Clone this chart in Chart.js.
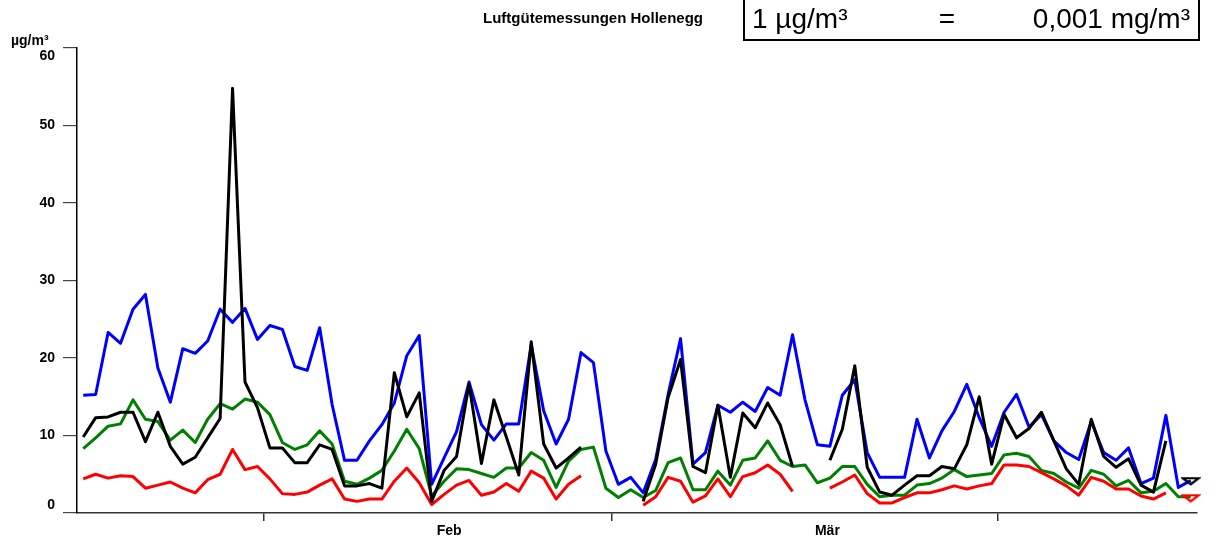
<!DOCTYPE html>
<html><head><meta charset="utf-8">
<script src="https://cdn.jsdelivr.net/npm/chart.js@4.4.1/dist/chart.umd.min.js"></script>
<style>html,body{margin:0;padding:0;background:#fff;}#wrap{position:relative;width:1228px;height:540px;}</style>
</head><body><div id="wrap"><canvas id="c" width="1228" height="540"></canvas></div>
<script>
// Categories: daily values (17.01. – 16.04.)
const days = [
 '17.01.','18.01.','19.01.','20.01.','21.01.','22.01.','23.01.','24.01.','25.01.','26.01.','27.01.','28.01.','29.01.','30.01.','31.01.',
 '01.02.','02.02.','03.02.','04.02.','05.02.','06.02.','07.02.','08.02.','09.02.','10.02.','11.02.','12.02.','13.02.','14.02.','15.02.',
 '16.02.','17.02.','18.02.','19.02.','20.02.','21.02.','22.02.','23.02.','24.02.','25.02.','26.02.','27.02.','28.02.',
 '01.03.','02.03.','03.03.','04.03.','05.03.','06.03.','07.03.','08.03.','09.03.','10.03.','11.03.','12.03.','13.03.','14.03.','15.03.',
 '16.03.','17.03.','18.03.','19.03.','20.03.','21.03.','22.03.','23.03.','24.03.','25.03.','26.03.','27.03.','28.03.','29.03.','30.03.','31.03.',
 '01.04.','02.04.','03.04.','04.04.','05.04.','06.04.','07.04.','08.04.','09.04.','10.04.','11.04.','12.04.','13.04.','14.04.','15.04.','16.04.'
];
const blue = [15.2,15.3,23.3,21.9,26.3,28.2,18.7,14.3,21.2,20.6,
 22.2,26.3,24.6,26.4,22.4,24.2,23.7,18.9,18.4,23.9,
 14.0,6.8,6.8,9.3,11.4,14.2,20.3,22.9,3.7,7.1,
 10.5,16.9,11.4,9.4,11.5,11.5,21.7,13.2,8.9,12.1,
 20.7,19.4,8.0,3.7,4.6,2.6,6.9,15.3,22.5,6.3,
 7.8,13.9,13.0,14.3,13.1,16.2,15.2,23.0,14.6,8.8,
 8.6,15.2,17.2,7.8,4.6,4.6,4.6,12.1,7.1,10.6,
 13.1,16.6,12.3,8.6,13.0,15.3,11.1,12.7,9.3,7.8,
 6.9,11.8,7.8,6.8,8.4,3.8,4.5,12.6,3.3,4.2];
const green = [8.3,9.7,11.2,11.5,14.6,12.1,11.8,9.4,10.7,9.1,
 12.1,14.1,13.4,14.7,14.3,12.7,9.1,8.2,8.8,10.6,
 8.9,4.1,3.7,4.5,5.5,8.0,10.8,8.3,2.2,4.1,
 5.7,5.6,5.1,4.6,5.8,5.8,7.8,6.8,3.3,6.7,
 8.2,8.5,3.2,2.0,3.0,2.0,2.9,6.5,7.1,3.0,
 3.0,5.4,3.6,6.8,7.1,9.3,6.8,6.0,6.2,3.9,
 4.5,6.0,6.0,3.7,2.1,2.3,2.3,3.6,3.8,4.5,
 5.6,4.7,4.9,5.1,7.5,7.7,7.3,5.5,5.1,4.0,
 3.2,5.5,5.0,3.5,4.2,2.6,2.8,3.8,2.1,2.1];
const black = [9.8,12.3,12.4,13.0,13.0,9.2,13.0,8.6,6.3,7.2,
 9.7,12.2,54.8,16.9,13.6,8.4,8.4,6.5,6.5,8.8,
 8.2,3.5,3.5,3.8,3.2,18.1,12.4,15.5,1.5,5.5,
 7.3,16.6,6.4,14.6,9.8,4.9,22.1,8.9,5.8,7.1,
 8.5,null,null,null,null,1.5,6.3,14.9,19.8,6.0,
 5.2,13.9,4.6,12.9,11.0,14.2,11.4,6.0,null,null,
 6.8,10.8,19.0,5.9,2.7,2.3,3.6,4.8,4.8,6.0,
 5.7,8.8,15.0,6.3,12.7,9.7,10.9,13.0,9.3,5.7,
 3.7,12.1,7.3,5.9,7.0,3.6,2.7,9.3,null,4.1];
const red = [4.4,5.0,4.5,4.8,4.7,3.2,3.6,4.0,3.2,2.6,
 4.3,5.0,8.2,5.6,6.0,4.4,2.5,2.4,2.7,3.6,
 4.4,1.8,1.5,1.8,1.8,4.1,5.8,3.9,1.1,2.4,
 3.6,4.2,2.3,2.7,3.8,2.8,5.4,4.5,1.8,3.7,
 4.8,null,null,null,null,1.0,2.1,4.6,4.1,1.4,
 2.2,4.4,2.1,4.7,5.2,6.2,5.0,2.8,null,null,
 3.2,4.0,4.9,2.5,1.3,1.3,2.0,2.6,2.6,3.0,
 3.5,3.1,3.5,3.8,6.2,6.2,6.0,5.2,4.4,3.5,
 2.3,4.6,4.1,3.1,3.1,2.2,1.8,2.6,null,1.9];
const yTicks = [0,10,20,30,40,50,60];
const monthTickAt = [15, 43, 74];          // month boundaries (01.02., 01.03., 01.04.)
const monthLabels = ['Feb', 'Mär'];
const monthLabelAt = [29.9, 60.3];
const titleText = 'Luftgütemessungen Hollenegg';
const unitText = 'µg/m³';
const boxTexts = ['1 µg/m³', '=', '0,001 mg/m³'];

const FONT = "'Liberation Sans', Arial, Helvetica, sans-serif";

function pts(arr){ return arr.map((v,i)=>({x:i+0.5, y:v})); }
function triImg(color){
  const c=document.createElement('canvas'); c.width=20; c.height=10;
  const g=c.getContext('2d'); g.strokeStyle=color; g.lineWidth=2.2; g.lineJoin='miter';
  g.beginPath(); g.moveTo(2,2); g.lineTo(18,2); g.lineTo(10,8); g.closePath(); g.stroke();
  return c;
}
function isolatedRadius(ctx){
  const d=ctx.dataset.data, i=ctx.dataIndex;
  if(!d[i] || d[i].y==null) return 0;
  const p=d[i-1], n=d[i+1];
  return ((!p||p.y==null)&&(!n||n.y==null)) ? 5 : 0;
}
function ds(label, arr, color, order, marker){
  return {label, data:pts(arr), borderColor:color, backgroundColor:color, borderWidth:3,
    order, spanGaps:false, tension:0, borderJoinStyle:'round', borderCapStyle:'butt', clip:false,
    pointRadius: marker ? isolatedRadius : 0, pointHoverRadius:0,
    pointStyle: marker ? triImg(color) : 'circle'};
}

const textPlugin = {
  id:'texts',
  afterDraw(chart){
    const g=chart.ctx, ys=chart.scales.y, a=chart.chartArea;
    g.save();
    g.fillStyle='#000';
    // y tick labels
    g.font='bold 14px '+FONT; g.textAlign='right'; g.textBaseline='middle';
    yTicks.forEach(v=>{
      let y=ys.getPixelForValue(v);
      y=Math.min(Math.max(y, a.top+8), a.bottom-8);
      g.fillText(String(v), 55, y);
    });
    // unit
    g.font='bold 14px '+FONT; g.textAlign='left';
    g.fillText(unitText, 11, 41);
    // title
    g.font='bold 15px '+FONT; g.textAlign='left';
    g.fillText(titleText, 483, 19);
    // conversion box
    g.strokeStyle='#000'; g.lineWidth=2;
    g.strokeRect(744, -3, 455, 43);
    g.font='28px '+FONT; g.textBaseline='alphabetic';
    g.textAlign='left'; g.fillText(boxTexts[0], 752, 28);
    g.textAlign='center'; g.fillText(boxTexts[1], 947, 28);
    g.textAlign='right'; g.fillText(boxTexts[2], 1190, 28);
    g.restore();
  }
};

new Chart(document.getElementById('c'), {
  type:'line',
  data:{datasets:[
    ds('Schwarz', black, '#000000', 0, true),
    ds('Rot', red, '#ff0000', 1, true),
    ds('Grün', green, '#008000', 2, false),
    ds('Blau', blue, '#0000ff', 3, false)
  ]},
  options:{
    responsive:false, animation:false, devicePixelRatio:1,
    layout:{padding:{left:0,right:31,top:48,bottom:0}},
    plugins:{legend:{display:false}, tooltip:{enabled:false}},
    scales:{
      x:{type:'linear', min:0, max:days.length,
        afterBuildTicks:s=>{ s.ticks=[...monthTickAt, ...monthLabelAt].sort((p,q)=>p-q).map(v=>({value:v})); },
        afterFit:s=>{ s.height=27; },
        border:{color:'#333', width:1.5},
        grid:{drawOnChartArea:false, drawTicks:true, tickLength:8, lineWidth:1.5,
          color:ctx=> (ctx.tick && monthTickAt.includes(ctx.tick.value)) ? '#333' : 'rgba(0,0,0,0)'},
        ticks:{autoSkip:false, maxRotation:0, padding:2, color:'#000',
          font:{family:FONT, size:14, weight:'bold'},
          callback:v=>{ const k=monthLabelAt.indexOf(v); return k>=0 ? monthLabels[k] : ''; }}
      },
      y:{min:0, max:60,
        afterBuildTicks:s=>{ s.ticks=yTicks.map(v=>({value:v})); },
        afterFit:s=>{ s.width=77; },
        border:{color:'#000', width:1.5},
        grid:{drawOnChartArea:false, drawTicks:true, tickLength:14, color:'#444', lineWidth:1.2},
        ticks:{display:false}
      }
    }
  },
  plugins:[textPlugin]
});
</script></body></html>
